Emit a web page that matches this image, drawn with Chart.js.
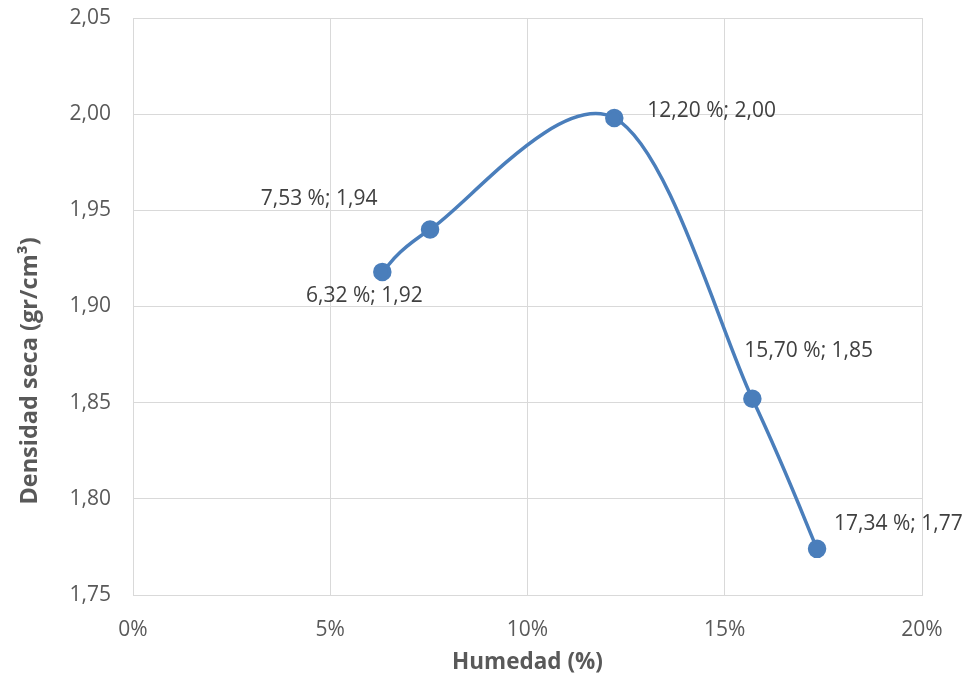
<!DOCTYPE html>
<html>
<head>
<meta charset="utf-8">
<script src="https://cdn.jsdelivr.net/npm/chart.js@4.4.1/dist/chart.umd.min.js"></script>
<style>
  html, body { margin: 0; padding: 0; background: #fff; }
  #wrap { width: 970px; height: 681px; position: relative; }
</style>
</head>
<body>
<div id="wrap"><canvas id="c"></canvas></div>
<script>
// Compaction test: moisture content (%) vs. dry density (gr/cm³)
const humedad = [6.32, 7.53, 12.20, 15.70, 17.34];
const densidad = [1.918, 1.940, 1.998, 1.852, 1.774];
const xTicks = [0, 5, 10, 15, 20];
const yTicks = [1.75, 1.80, 1.85, 1.90, 1.95, 2.00, 2.05];
const xTitle = 'Humedad (%)';
const yTitle = 'Densidad seca (gr/cm³)';

// label placement relative to each point: [dx, dy, align]
const labelPlacement = [
  [-18, 24, 'center'],
  [-111, -31, 'center'],
  [33, -7, 'left'],
  [-8, -48, 'left'],
  [17, -25, 'left']
];

const fmt = (v) => v.toFixed(2).replace('.', ',');
const FONT = '"Open Sans", sans-serif';

// Uniform Catmull-Rom style smoothing: tangent at each point = (next - prev) / 6
const smoothCurve = {
  id: 'smoothCurve',
  beforeDatasetDraw(chart, args) {
    const meta = args.meta;
    const line = meta.dataset;
    if (line && line.updateControlPoints) line.updateControlPoints(chart.chartArea, 'x');
    const pts = meta.data;
    const n = pts.length;
    for (let i = 0; i < n; i++) {
      const prev = pts[Math.max(i - 1, 0)];
      const next = pts[Math.min(i + 1, n - 1)];
      const tx = (next.x - prev.x) / 6;
      const ty = (next.y - prev.y) / 6;
      pts[i].cp1x = pts[i].x - tx;
      pts[i].cp1y = pts[i].y - ty;
      pts[i].cp2x = pts[i].x + tx;
      pts[i].cp2y = pts[i].y + ty;
    }
    if (line) line._path = undefined;
  }
};

// value labels beside each point
const pointLabels = {
  id: 'pointLabels',
  afterDatasetsDraw(chart) {
    const ctx = chart.ctx;
    const meta = chart.getDatasetMeta(0);
    ctx.save();
    ctx.font = '21px ' + FONT;
    ctx.fillStyle = '#404040';
    ctx.textBaseline = 'middle';
    meta.data.forEach((el, i) => {
      const [dx, dy, align] = labelPlacement[i];
      ctx.textAlign = align;
      const text = fmt(humedad[i]) + ' %; ' + fmt(densidad[i]);
      ctx.fillText(text, el.x + dx, el.y + dy);
    });
    ctx.restore();
  }
};

// vertical axis title, set a little below the middle of the plot
const yAxisTitle = {
  id: 'yAxisTitle',
  afterDraw(chart) {
    const ctx = chart.ctx;
    ctx.save();
    ctx.translate(30, 371);
    ctx.rotate(-Math.PI / 2);
    ctx.font = 'bold 23.5px ' + FONT;
    ctx.fillStyle = '#595959';
    ctx.textAlign = 'center';
    ctx.textBaseline = 'middle';
    ctx.fillText(yTitle, 0, 0);
    ctx.restore();
  }
};

new Chart(document.getElementById('c'), {
  type: 'scatter',
  data: {
    datasets: [{
      data: humedad.map((x, i) => ({ x: x, y: densidad[i] })),
      showLine: true,
      borderColor: '#4a7ebb',
      backgroundColor: '#4a7ebb',
      borderWidth: 3.5,
      pointRadius: 7.5,
      pointHoverRadius: 7.5,
      tension: 0.4
    }]
  },
  options: {
    responsive: true,
    maintainAspectRatio: false,
    animation: false,
    layout: { padding: { top: 18, right: 48, bottom: 0, left: 0 } },
    plugins: { legend: { display: false }, tooltip: { enabled: false } },
    scales: {
      x: {
        type: 'linear',
        min: 0, max: 20,
        afterBuildTicks(scale) { scale.ticks = xTicks.map(v => ({ value: v })); },
        afterFit(scale) { scale.height = 86; },
        grid: { color: '#d9d9d9', lineWidth: 1, drawTicks: false },
        border: { color: '#d9d9d9' },
        ticks: {
          padding: 22,
          color: '#595959',
          font: { family: FONT, size: 21 },
          callback: (v) => v + '%'
        },
        title: {
          display: true,
          text: xTitle,
          color: '#595959',
          font: { family: FONT, size: 22.5, weight: 'bold' },
          padding: { top: 0, bottom: 4.5 }
        }
      },
      y: {
        min: 1.75, max: 2.05,
        afterBuildTicks(scale) { scale.ticks = yTicks.map(v => ({ value: v })); },
        afterFit(scale) {
          scale.width = 133;
          scale.paddingTop = 0;
          scale.paddingBottom = 0;
        },
        grid: { color: '#d9d9d9', lineWidth: 1, drawTicks: false },
        border: { color: '#d9d9d9' },
        ticks: {
          padding: 22,
          color: '#595959',
          font: { family: FONT, size: 21 },
          callback: (v) => fmt(v)
        },
        title: { display: false }
      }
    }
  },
  plugins: [smoothCurve, pointLabels, yAxisTitle]
});
</script>
</body>
</html>
